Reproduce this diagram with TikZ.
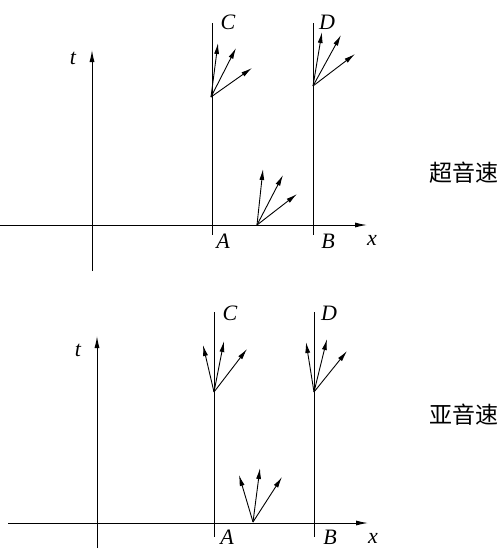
\documentclass[tikz,border=0pt]{standalone}
\usepackage{fontspec}
\setmainfont{Liberation Serif}
\newfontfamily\cjk{Noto Sans CJK SC}
\usetikzlibrary{arrows.meta}
\begin{document}
\begin{tikzpicture}[x=1pt,y=-1pt,
  axis/.style={line width=1pt,-{Latex[length=12pt,width=5pt]}},
  vline/.style={line width=1pt},
  vec/.style={line width=0.9pt,-{Latex[length=11pt,width=5pt]}},
  lab/.style={font=\fontsize{22}{22}\selectfont\itshape,inner sep=0pt},
  cn/.style={font=\cjk\fontsize{23}{23}\selectfont,inner sep=0pt}]
\useasboundingbox (0,0) rectangle (504,550);
% ---------- top (supersonic) ----------
\coordinate (tb1) at (92,271);
\coordinate (tt1) at (92,50);
\coordinate (xl1) at (0,225);
\coordinate (xr1) at (367,225);
\draw[axis] (tb1) -- (tt1);
\draw[axis] (xl1) -- (xr1);
\coordinate (a1t) at (212,23); \coordinate (a1b) at (212,235);
\coordinate (b1t) at (313,23); \coordinate (b1b) at (313,235);
\draw[vline] (a1t) -- (a1b);
\draw[vline] (b1t) -- (b1b);
\node[lab] (t1) at (73,58) {t};
\node[lab] (x1) at (372,240) {x};
\node[lab] (A1) at (223,241) {A};
\node[lab] (B1) at (328,241) {B};
\node[lab] (C1) at (228,22) {C};
\node[lab] (D1) at (327,22) {D};
\coordinate (oc1) at (211,97);
\coordinate (c1a) at (218,43); \coordinate (c1b) at (236,48); \coordinate (c1c) at (252,68);
\draw[vec] (oc1) -- (c1a); \draw[vec] (oc1) -- (c1b); \draw[vec] (oc1) -- (c1c);
\coordinate (od1) at (313,86);
\coordinate (d1a) at (322,32); \coordinate (d1b) at (341,35); \coordinate (d1c) at (355,54);
\draw[vec] (od1) -- (d1a); \draw[vec] (od1) -- (d1b); \draw[vec] (od1) -- (d1c);
\coordinate (oe1) at (257,225);
\coordinate (e1a) at (263,169); \coordinate (e1b) at (283,175); \coordinate (e1c) at (297,194);
\draw[vec] (oe1) -- (e1a); \draw[vec] (oe1) -- (e1b); \draw[vec] (oe1) -- (e1c);
\node[cn] (sup1) at (464,173) {超音速};
% ---------- bottom (subsonic) ----------
\coordinate (tb2) at (97,548);
\coordinate (tt2) at (97,336);
\coordinate (xl2) at (8,523);
\coordinate (xr2) at (368,523);
\draw[axis] (tb2) -- (tt2);
\draw[axis] (xl2) -- (xr2);
\coordinate (a2t) at (214,312); \coordinate (a2b) at (214,537);
\coordinate (b2t) at (314,312); \coordinate (b2b) at (314,537);
\draw[vline] (a2t) -- (a2b);
\draw[vline] (b2t) -- (b2b);
\node[lab] (t2) at (78,350) {t};
\node[lab] (x2) at (373,538) {x};
\node[lab] (A2) at (227,537) {A};
\node[lab] (B2) at (330,537) {B};
\node[lab] (C2) at (230,313) {C};
\node[lab] (D2) at (329,313) {D};
\coordinate (oc2) at (214,392);
\coordinate (c2a) at (203,345); \coordinate (c2b) at (224,341); \coordinate (c2c) at (247,349);
\draw[vec] (oc2) -- (c2a); \draw[vec] (oc2) -- (c2b); \draw[vec] (oc2) -- (c2c);
\coordinate (od2) at (314,392);
\coordinate (d2a) at (306,342); \coordinate (d2b) at (327,339); \coordinate (d2c) at (347,351);
\draw[vec] (od2) -- (d2a); \draw[vec] (od2) -- (d2b); \draw[vec] (od2) -- (d2c);
\coordinate (oe2) at (253,522);
\coordinate (e2a) at (239,475); \coordinate (e2b) at (260,468); \coordinate (e2c) at (282,477);
\draw[vec] (oe2) -- (e2a); \draw[vec] (oe2) -- (e2b); \draw[vec] (oe2) -- (e2c);
\node[cn] (sub2) at (464,415) {亚音速};
\end{tikzpicture}
\end{document}
